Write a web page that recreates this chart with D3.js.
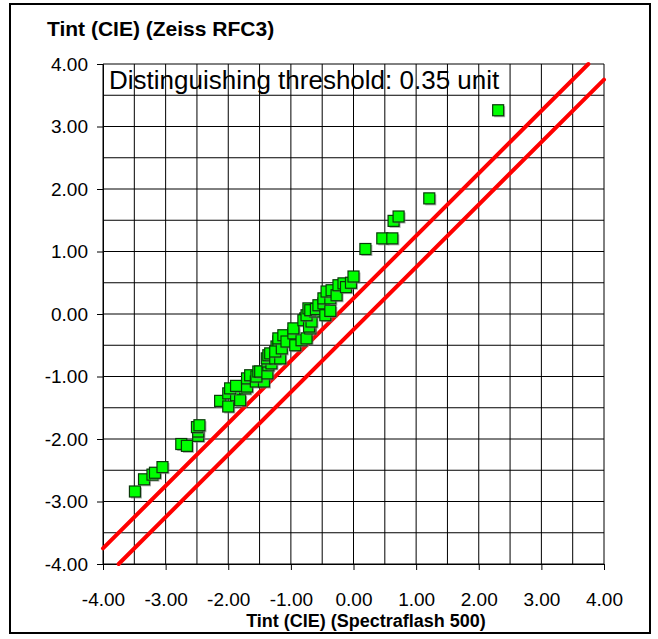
<!DOCTYPE html>
<html>
<head>
<meta charset="utf-8">
<script src="https://cdn.jsdelivr.net/npm/d3@7"></script>
<style>
  html, body { margin: 0; padding: 0; background: #fff; }
  svg { display: block; }
  text { font-family: "Liberation Sans", Arial, sans-serif; }
</style>
</head>
<body>
<script>
// ---- data ----
const xValues = [2.31, 1.21, 0.72, 0.64, 0.62, 0.46, 0.19, 0.00, -0.04, -0.12, -0.16, -0.24, -0.27, -0.35, -0.43, -0.37, -0.48,
  -0.37, -0.45, -0.48, -0.56, -0.60, -0.69, -0.72, -0.61, -0.75, -0.67, -0.71, -0.80, -0.77, -0.96, -0.69, -0.75, -0.83,
  -0.93, -0.96, -1.07, -1.12, -1.20, -1.145, -1.25, -1.17, -1.20, -1.23, -1.25, -1.33, -1.36, -1.385, -1.31, -1.375, -1.36,
  -1.375, -1.49, -1.52, -1.55, -1.43, -1.56, -1.65, -1.70, -1.70, -1.875, -1.73, -1.97, -1.81, -1.875, -2.00, -2.00, -2.13,
  -2.46, -2.50, -2.48, -2.48, -2.66, -2.75, -3.05, -3.17, -3.21, -3.345, -3.49];
const yValues = [3.26, 1.85, 1.56, 1.49, 1.21, 1.21, 1.04, 0.60, 0.50, 0.43, 0.49, 0.46, 0.30, 0.38, 0.36, 0.25, 0.25,
  0.05, -0.02, 0.17, 0.14, 0.08, 0.06, 0.09, 0.04, -0.02, -0.12, -0.20, -0.10, -0.07, -0.23, -0.23, -0.39, -0.42,
  -0.50, -0.31, -0.44, -0.34, -0.39, -0.55, -0.60, -0.71, -0.44, -0.52, -0.71, -0.63, -0.66, -0.71, -0.79, -0.76, -0.82,
  -0.95, -0.92, -0.92, -1.00, -1.08, -1.08, -0.98, -1.03, -1.16, -1.15, -1.19, -1.19, -1.38, -1.30, -1.27, -1.48, -1.39,
  -1.78, -1.81, -1.88, -1.95, -2.11, -2.08, -2.45, -2.54, -2.57, -2.645, -2.84];
const tickValues = [-4, -3, -2, -1, 0, 1, 2, 3, 4];
const gridValues = [-4, -3.5, -3, -2.5, -2, -1.5, -1, -0.5, 0, 0.5, 1, 1.5, 2, 2.5, 3, 3.5, 4];
const thresholdOffset = 0.25;
const upperLine = [[-4, -4 + thresholdOffset], [4 - thresholdOffset, 4]];
const lowerLine = [[-4 + thresholdOffset, -4], [4, 4 - thresholdOffset]];
const yTitle = "Tint (CIE) (Zeiss RFC3)";
const xTitle = "Tint (CIE) (Spectraflash 500)";
const noteText = "Distinguishing threshold: 0.35 unit";

// ---- layout ----
const W = 658, H = 639;
const svg = d3.select("body").append("svg").attr("width", W).attr("height", H);

svg.append("rect").attr("x", 10).attr("y", 4).attr("width", 640).attr("height", 629)
  .attr("fill", "#fff").attr("stroke", "#000").attr("stroke-width", 2);

const x = d3.scaleLinear().domain([-4, 4]).range([103, 604]);
const y = d3.scaleLinear().domain([-4, 4]).range([564, 64]);

const fmt = d => d.toFixed(2);

// grid
const grid = svg.append("g");
grid.selectAll("line.v").data(gridValues).join("line")
  .attr("x1", d => x(d)).attr("x2", d => x(d)).attr("y1", y(4)).attr("y2", y(-4))
  .attr("stroke", "#000").attr("stroke-width", 1);
grid.selectAll("line.h").data(gridValues).join("line")
  .attr("y1", d => y(d)).attr("y2", d => y(d)).attr("x1", x(-4)).attr("x2", x(4))
  .attr("stroke", "#000").attr("stroke-width", 1);

// axes
const xAxis = d3.axisBottom(x).tickValues(tickValues).tickFormat(fmt).tickSize(6).tickPadding(23);
const yAxis = d3.axisLeft(y).tickValues(tickValues).tickFormat(fmt).tickSize(6).tickPadding(9);
const gx = svg.append("g").attr("transform", `translate(0,${y(-4)})`).call(xAxis);
const gy = svg.append("g").attr("transform", `translate(${x(-4)},0)`).call(yAxis);
[gx, gy].forEach(g => {
  g.select(".domain").attr("stroke", "#000");
  g.selectAll(".tick line").attr("stroke", "#000");
  g.selectAll(".tick text").attr("fill", "#000").style("font-size", "19px")
    .style("font-family", '"Liberation Sans", Arial, sans-serif');
});

// annotation
svg.append("text").attr("x", 109).attr("y", 89).text(noteText)
  .style("font-size", "26px").attr("fill", "#000");

// threshold lines
const line = d3.line().x(d => x(d[0])).y(d => y(d[1]));
[upperLine, lowerLine].forEach(l => {
  svg.append("path").attr("d", line(l)).attr("fill", "none")
    .attr("stroke", "#ff0000").attr("stroke-width", 4).attr("stroke-linecap", "round");
});

// points
const pts = xValues.map((v, i) => [v, yValues[i]]);
const s = 11;
const pg = svg.append("g");
pts.slice().reverse().forEach(p => {
  const g = pg.append("g");
  g.append("rect").attr("x", x(p[0]) - s / 2 + 1.5).attr("y", y(p[1]) - s / 2 + 1.5)
    .attr("width", s).attr("height", s).attr("fill", "#777").attr("opacity", 0.6);
  g.append("rect").attr("x", x(p[0]) - s / 2).attr("y", y(p[1]) - s / 2)
    .attr("width", s).attr("height", s).attr("fill", "#00ff00")
    .attr("stroke", "#0a3a0a").attr("stroke-width", 1.2);
});

// titles
svg.append("text").attr("x", 47).attr("y", 36).text(yTitle)
  .style("font-size", "21px").style("font-weight", "bold").attr("fill", "#000");
svg.append("text").attr("x", 366).attr("y", 627).attr("text-anchor", "middle").text(xTitle)
  .style("font-size", "18px").style("font-weight", "bold").attr("fill", "#000");
</script>
</body>
</html>
